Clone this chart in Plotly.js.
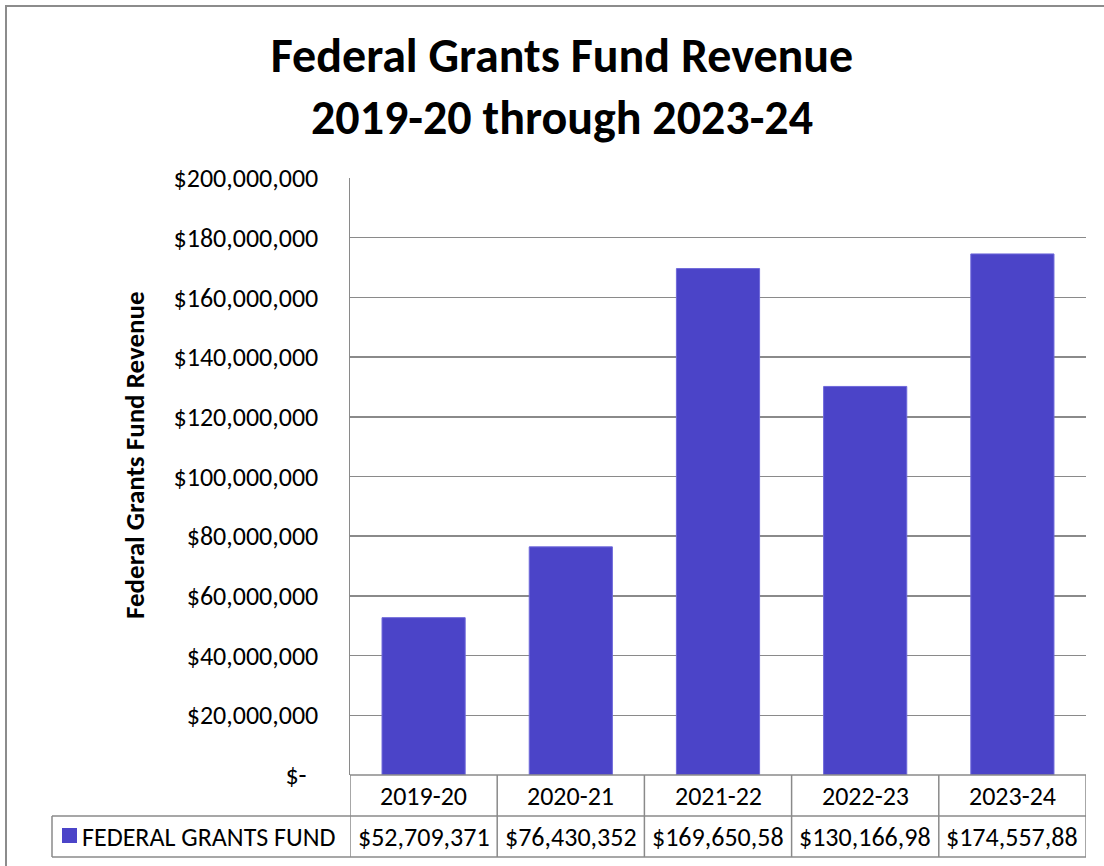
<!DOCTYPE html>
<html>
<head>
<meta charset="utf-8">
<script src="https://cdn.plot.ly/plotly-3.0.1.min.js"></script>
<style>body{margin:0;padding:0;background:#fff;} #chart{width:1104px;height:866px;}</style>
</head>
<body>
<div id="chart"></div>
<script>
// ---- Data ----
const categories = ["2019-20", "2020-21", "2021-22", "2022-23", "2023-24"];
// last digits of the three truncated table values are estimated
const revenue = [52709371, 76430352, 169650580, 130166980, 174557880];
const seriesName = "FEDERAL GRANTS FUND";
const yTickValues = [0, 20000000, 40000000, 60000000, 80000000, 100000000, 120000000, 140000000, 160000000, 180000000, 200000000];
const chartTitle = "Federal Grants Fund Revenue<br>2019-20 through 2023-24";
const yAxisTitle = "Federal Grants Fund Revenue";

// ---- Helpers ----
const FONT = "Carlito, Lato, 'Open Sans', sans-serif";
const BAR = "#4B44C8";
const GRID = "#8a8a8a";
const TXT = 26;
function money(v) { return v === 0 ? "$-\u00a0\u00a0" : "$" + v.toLocaleString("en-US"); }
function cellText(v) { const s = "$" + v.toLocaleString("en-US"); return s.length > 11 ? s.slice(0, 11) : s; }

const W = 1104, H = 866;
const L = 350, R = 1086, T = 178, B = 775;
const px = x => (x - L) / (R - L);
const py = y => (B - y) / (B - T);

const shapes = [];
const annotations = [];
const lineStyle = {color: GRID, width: 1.5};

// outer chart border
shapes.push({type: "rect", xref: "paper", yref: "paper", x0: px(6), x1: px(1112), y0: py(872), y1: py(6), line: {color: "#8c8c8c", width: 2}, layer: "below"});

// table: horizontal lines
const rowMid = py(816), rowBot = py(857);
shapes.push({type: "line", xref: "paper", yref: "paper", x0: 0, x1: 1, y0: 0, y1: 0, line: lineStyle});
shapes.push({type: "line", xref: "paper", yref: "paper", x0: px(52), x1: 1, y0: rowMid, y1: rowMid, line: lineStyle});
shapes.push({type: "line", xref: "paper", yref: "paper", x0: px(52), x1: 1, y0: rowBot, y1: rowBot, line: lineStyle});
// legend cell left edge
shapes.push({type: "line", xref: "paper", yref: "paper", x0: px(52), x1: px(52), y0: rowMid, y1: rowBot, line: lineStyle});
// vertical lines between categories
for (let i = 0; i <= categories.length; i++) {
  shapes.push({type: "line", xref: "x", yref: "paper", x0: i - 0.5, x1: i - 0.5, y0: 0, y1: rowBot, line: lineStyle});
}
// legend swatch
shapes.push({type: "rect", xref: "paper", yref: "paper", x0: px(62), x1: px(77), y0: py(843), y1: py(828), fillcolor: BAR, line: {width: 0}});

// table texts
categories.forEach((c, i) => {
  annotations.push({xref: "x", yref: "paper", x: i, y: py(796), text: c, showarrow: false, font: {family: FONT, size: TXT, color: "#000"}, xanchor: "center", yanchor: "middle"});
  annotations.push({xref: "x", yref: "paper", x: i, y: py(836.5), text: cellText(revenue[i]), showarrow: false, font: {family: FONT, size: TXT, color: "#000"}, xanchor: "center", yanchor: "middle"});
});
annotations.push({xref: "paper", yref: "paper", x: px(80), y: py(836.5), text: seriesName, showarrow: false, font: {family: FONT, size: TXT, color: "#000"}, xanchor: "left", yanchor: "middle"});

// y-axis title
annotations.push({xref: "paper", yref: "paper", x: px(134), y: py(455), text: "<b>" + yAxisTitle + "</b>", textangle: -90, showarrow: false, font: {family: FONT, size: 27, color: "#000"}, xanchor: "center", yanchor: "middle"});

const trace = {
  type: "bar",
  x: categories,
  y: revenue,
  name: seriesName,
  marker: {color: BAR, line: {color: "#6e68da", width: 1}},
  hoverinfo: "x+y"
};

const layout = {
  width: W, height: H,
  margin: {l: L, r: W - R, t: T, b: H - B, pad: 0},
  paper_bgcolor: "#fff", plot_bgcolor: "#fff",
  title: {text: "<b>" + chartTitle + "</b>", font: {family: FONT, size: 48, color: "#000"}, x: 562 / W, xanchor: "center", y: 1 - 72 / H, yanchor: "middle", yref: "container"},
  showlegend: false,
  bargap: 0.435,
  xaxis: {type: "category", range: [-0.5, 4.5], showticklabels: false, showgrid: false, zeroline: false, showline: false, ticks: ""},
  yaxis: {
    range: [0, 200000000], tickvals: yTickValues, ticktext: yTickValues.map(money),
    showgrid: true, gridcolor: GRID, gridwidth: 1.5, zeroline: false,
    showline: true, linecolor: GRID, linewidth: 1.5,
    ticks: "", ticklabelstandoff: 25,
    tickfont: {family: FONT, size: TXT, color: "#000"}
  },
  shapes: shapes,
  annotations: annotations
};

Plotly.newPlot("chart", [trace], layout, {displayModeBar: false, staticPlot: true});
</script>
</body>
</html>
